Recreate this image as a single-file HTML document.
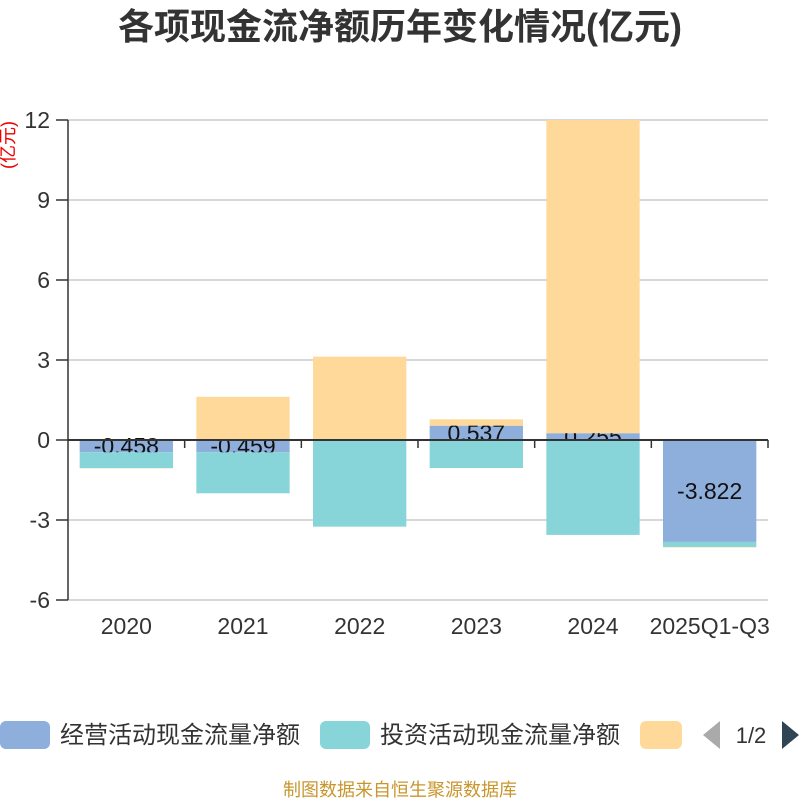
<!DOCTYPE html>
<html><head><meta charset="utf-8"><style>
body{margin:0;background:#fff;}
svg text{font-family:"Liberation Sans","Noto Sans CJK SC",sans-serif;}
</style></head><body>
<svg id="chart" width="800" height="800" xmlns="http://www.w3.org/2000/svg">
<text x="400" y="39" text-anchor="middle" font-size="36" font-weight="bold" fill="#333">各项现金流净额历年变化情况(亿元)</text>
<text transform="translate(14,145) rotate(-90)" text-anchor="middle" font-size="18" fill="#e00">(亿元)</text>
<g id="grid"></g><g id="bars"></g><g id="axes"></g>
<g>
<rect x="0" y="721" width="50" height="28" rx="6" fill="#8eaedb"/>
<text x="60" y="743" font-size="24" fill="#333">经营活动现金流量净额</text>
<rect x="320" y="721" width="50" height="28" rx="6" fill="#88d5d9"/>
<text x="380" y="743" font-size="24" fill="#333">投资活动现金流量净额</text>
<rect x="640" y="721" width="42" height="28" rx="6" fill="#ffd99a"/>
<polygon points="720,721 720,749 703,735" fill="#aaa"/>
<text x="751" y="743" text-anchor="middle" font-size="22" fill="#333">1/2</text>
<polygon points="782,721 782,749 799,735" fill="#2f4554"/>
</g>
<text x="400" y="796" text-anchor="middle" font-size="18" fill="#c8962e">制图数据来自恒生聚源数据库</text>
</svg>
<script>
const categories=["2020","2021","2022","2023","2024","2025Q1-Q3"];
const operating=[-0.458,-0.459,0.016,0.537,0.255,-3.822];
const investing=[-0.60,-1.54,-3.25,-1.05,-3.56,-0.19];
const financing=[-0.01,1.62,3.11,0.24,11.9,-0.02];
const opLabels=["-0.458","-0.459","0.016","0.537","0.255","-3.822"];
const yTicks=[12,9,6,3,0,-3,-6];
const NS="http://www.w3.org/2000/svg";
const x0=68,x1=768,yMin=-6,yMax=12,yTop=120,yBot=600;
const y=v=>yTop+(yMax-Math.max(yMin,Math.min(yMax,v)))/(yMax-yMin)*(yBot-yTop);
const bw=(x1-x0)/categories.length;
function mk(tag,attrs,parent){const e=document.createElementNS(NS,tag);for(const k in attrs)e.setAttribute(k,attrs[k]);document.getElementById(parent).appendChild(e);return e;}
yTicks.forEach(t=>{
  if(t!==0){const g=mk('line',{x1:x0,x2:768,y1:y(t),y2:y(t),stroke:'#ccc','stroke-width':1.5},'grid');
  
  }
  const tk=mk('line',{x1:x0-12,x2:x0,y1:y(t),y2:y(t),stroke:'#333','stroke-width':1.5},'axes');
  
  
  const l=mk('text',{x:50,y:y(t)+8,'text-anchor':'end','font-size':23,fill:'#333'},'axes');l.textContent=t;
  
  
});
const series=[[operating,'#8eaedb','bar-operating'],[investing,'#88d5d9','bar-investing'],[financing,'#ffd99a','bar-financing']];
const pos=categories.map(()=>0),neg=categories.map(()=>0);
series.forEach(([vals,col,name],si)=>{
  vals.forEach((v,i)=>{
    const base=v>=0?pos[i]:neg[i],end=base+v;
    if(v>=0)pos[i]=end;else neg[i]=end;
    const ya=y(base),yb=y(end);
    const r=mk('rect',{x:x0+i*bw+bw*0.1,y:Math.min(ya,yb),width:bw*0.8,height:Math.abs(yb-ya),fill:col},'bars');
    
    
    if(si===0){
      const t=mk('text',{x:x0+i*bw+bw/2,y:(ya+yb)/2+8,'text-anchor':'middle','font-size':23,fill:'#111'},'bars');
      t.textContent=opLabels[i];
      
      
    }
  });
});
const ax=mk('line',{x1:x0,x2:x0,y1:yTop,y2:yBot,stroke:'#333','stroke-width':1.5},'axes');


const xa=mk('line',{x1:x0,x2:x1,y1:y(0),y2:y(0),stroke:'#333','stroke-width':2},'axes');


categories.forEach((c,i)=>{
  const tk=mk('line',{x1:x0+(i+1)*bw,x2:x0+(i+1)*bw,y1:y(0),y2:y(0)+8,stroke:'#333','stroke-width':1.5},'axes');
  
  
  const t=mk('text',{x:x0+i*bw+bw/2,y:634,'text-anchor':'middle','font-size':23,fill:'#333'},'axes');t.textContent=c;
  
  
});
</script>
</body></html>
